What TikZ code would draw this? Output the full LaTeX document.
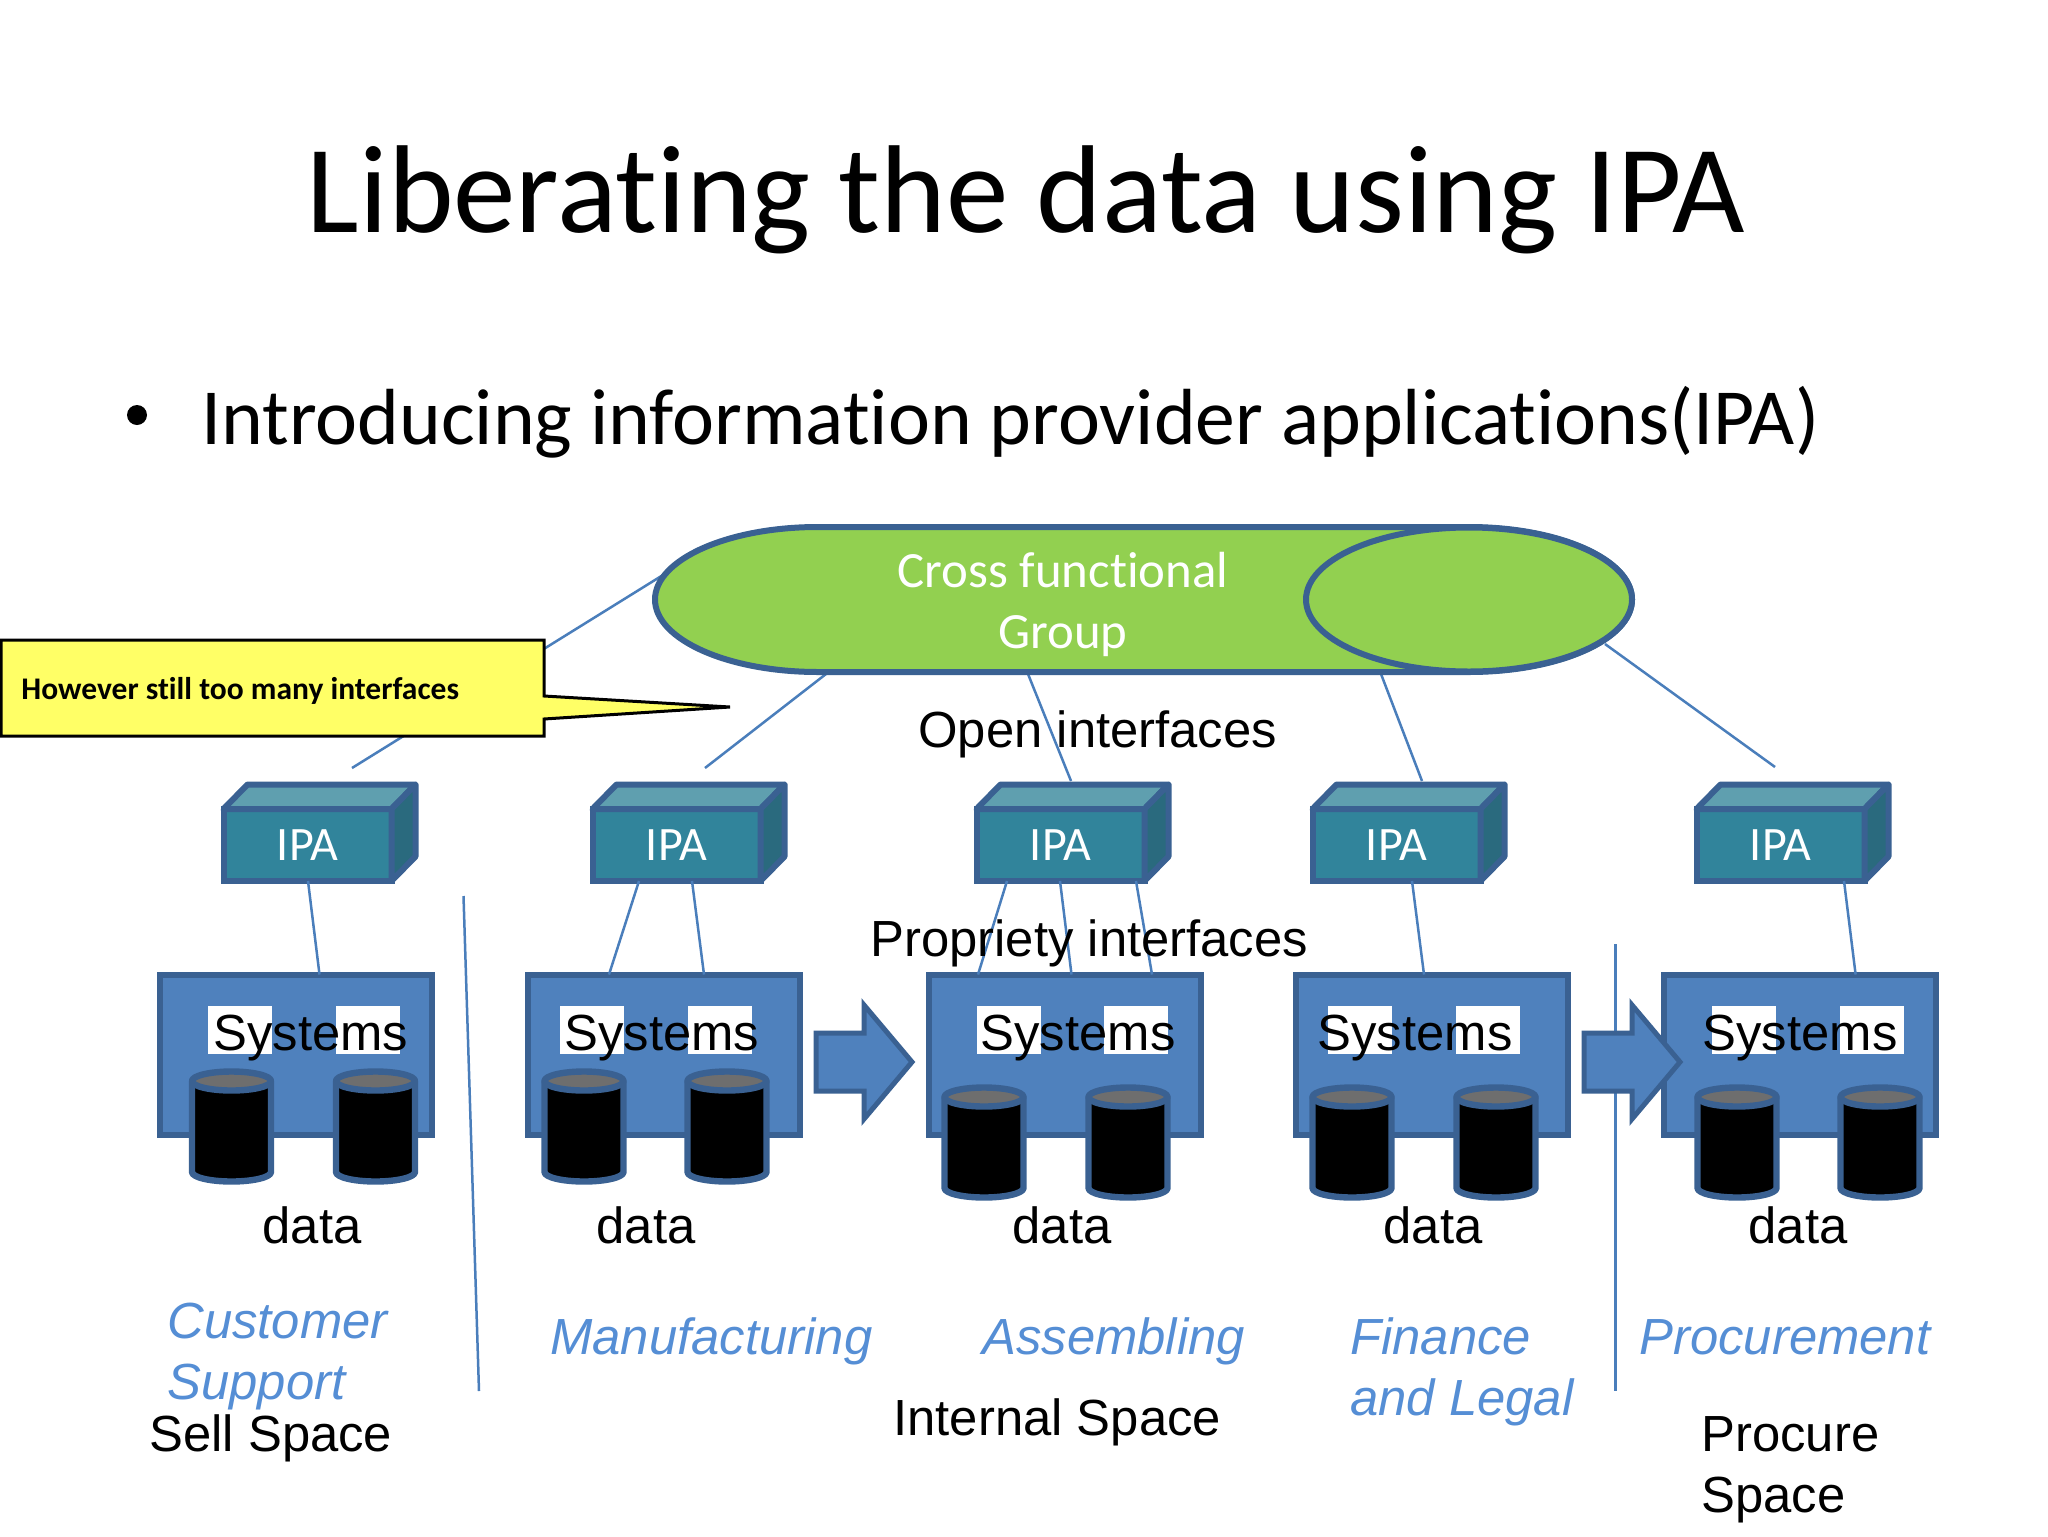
\documentclass[tikz,border=0pt]{standalone}
\usepackage{fontspec}
\setmainfont[Ligatures=NoCommon]{Carlito}
\newfontfamily\arialfont{Liberation Sans}
\usetikzlibrary{positioning, arrows.meta}

\definecolor{edgeblue}{HTML}{3A6192}
\definecolor{sysblue}{HTML}{4F81BD}
\definecolor{thinblue}{HTML}{4A7EBB}
\definecolor{labelblue}{HTML}{558ED5}
\definecolor{ipafront}{HTML}{31849B}
\definecolor{ipatop}{HTML}{5F9FAF}
\definecolor{ipaside}{HTML}{2A6A7E}
\definecolor{pillgreen}{HTML}{92D050}
\definecolor{noteyellow}{HTML}{FFFF66}
\definecolor{drumtop}{HTML}{6E6E6E}

\tikzset{
  thinline/.style={thinblue,line width=1.25pt},
  edgeline/.style={edgeblue,line width=3pt,line join=round},
  ipabox/.style={draw=edgeblue,line width=3pt,fill=ipafront,text=white,outer sep=0,inner sep=0,
    minimum width=84pt,minimum height=36pt,font=\fontsize{24}{29}\selectfont},
  sysbox/.style={draw=edgeblue,line width=3pt,fill=sysblue,outer sep=0,inner sep=0,
    minimum width=136pt,minimum height=80pt},
  patch/.style={fill=white,inner sep=0,minimum width=32pt,minimum height=24pt,anchor=north west},
  arial/.style={font=\arialfont\fontsize{25.4}{30.5}\selectfont,inner sep=0,align=left},
  italicblue/.style={font=\arialfont\itshape\fontsize{25.4}{30.5}\selectfont,text=labelblue,inner sep=0,align=left}
}

% caja IPA con sus dos caras extra
\newcommand{\ipacube}[2]{
  \node[ipabox](#1) at (#2,845) {IPA};
  \draw[edgeline,fill=ipatop] (#1.north west) -- ++(24,-24.5) -- ++(168,0) -- (#1.north east) -- cycle;
  \draw[edgeline,fill=ipaside] (#1.north east) -- ++(24,-24.5) -- ++(0,72) -- (#1.south east) -- cycle;
}
% sistema: nombre, centro, los dos parches blancos, centro del texto
\newcommand{\system}[5]{
  \node[sysbox](#1) at (#2,1054.5) {};
  \node[patch](#1p1) at (#3,1006) {};
  \node[patch](#1p2) at (#4,1006) {};
  \node[arial,anchor=base](#1t) at (#5,1050) {Systems};
}
\newcommand{\drum}[2]{
  \draw[edgeline,line width=3.2pt,fill=black] (#1-39.5,#2) -- (#1-39.5,#2+91)
    arc[start angle=180,end angle=0,x radius=39.5,y radius=9.5] -- (#1+39.5,#2) -- cycle;
  \draw[edgeline,line width=3.2pt,fill=drumtop] (#1,#2) ellipse[x radius=39.5,y radius=9.5];
}
\newcommand{\blockarrow}[1]{
  \draw[edgeblue,line width=2.5pt,miter limit=3,fill=sysblue] (#1,1033) -- ++(48,0) -- ++(0,-28) -- ++(48,57) -- ++(-48,57) -- ++(0,-28) -- ++(-48,0) -- cycle;
}

\begin{document}
\begin{tikzpicture}[x=0.5pt,y=-0.5pt]
  \useasboundingbox[fill=white] (0,0) rectangle (2048,1536);

  \node[anchor=base,inner sep=0,font=\fontsize{62.5}{72}\selectfont](title) at (1026,232) {Liberating the data using IPA};
  \node[anchor=base west,inner sep=0,font=\fontsize{39.8}{46}\selectfont](bullet) at (201,444) {Introducing information provider applications(IPA)};
  \fill (137,415) circle (10);

  % lineas abiertas, quedan debajo de la nota
  \coordinate (o1a) at (663,575); \coordinate (o1b) at (352,768);
  \coordinate (o2a) at (826,674); \coordinate (o2b) at (705,768);
  \coordinate (o3a) at (1028,674); \coordinate (o3b) at (1071,781);
  \coordinate (o4a) at (1381,674); \coordinate (o4b) at (1422,781);
  \coordinate (o5a) at (1605,644); \coordinate (o5b) at (1775,767);
  \draw[thinline] (o1a) -- (o1b);
  \draw[thinline] (o2a) -- (o2b);
  \draw[thinline] (o3a) -- (o3b);
  \draw[thinline] (o4a) -- (o4b);
  \draw[thinline] (o5a) -- (o5b);

  % grupo transversal
  \draw[edgeline,fill=pillgreen] (818,527) -- (1469,527)
    arc[start angle=270,end angle=450,x radius=163,y radius=72.5] -- (818,672)
    arc[start angle=90,end angle=270,x radius=163,y radius=72.5] -- cycle;
  \draw[edgeline,fill=pillgreen] (1469,599.5) ellipse[x radius=163,y radius=72];
  \node[anchor=base,text=white,inner sep=0,align=center,font=\fontsize{25.4}{30.5}\selectfont](group) at (1063,648) {Cross functional\\Group};

  % nota amarilla
  \draw[black,line width=1.5pt,fill=noteyellow] (1,640) -- (544,640) -- (544,696) -- (730,707) -- (544,719) -- (544,736) -- (1,736) -- cycle;
  \node[anchor=base west,inner sep=0,font=\bfseries\fontsize{15.75}{19}\selectfont](note) at (21,699) {However still too many interfaces};

  \ipacube{ipa1}{307.5}
  \ipacube{ipa2}{676.5}
  \ipacube{ipa3}{1060.5}
  \ipacube{ipa4}{1396.5}
  \ipacube{ipa5}{1780.5}

  \draw[thinline] (463.5,896) -- (479,1391);
  \draw[thinline] (1615.5,944) -- (1615.5,1391);

  \system{sys1}{295.5}{208}{336}{311}
  \system{sys2}{663.5}{560}{688}{662}
  \system{sys3}{1064.5}{977}{1104}{1078}
  \system{sys4}{1432}{1328}{1456}{1415}
  \system{sys5}{1800}{1712}{1840}{1800}

  \draw[thinline] ([shift={(0.5,0)}]ipa1.south) -- ([shift={(24,0)}]sys1.north);
  \draw[thinline] ([shift={(-37.5,0)}]ipa2.south) -- ([shift={(-54.5,0)}]sys2.north);
  \draw[thinline] ([shift={(15.5,0)}]ipa2.south) -- ([shift={(40.5,0)}]sys2.north);
  \draw[thinline] ([shift={(-53.5,0)}]ipa3.south) -- ([shift={(-86.5,0)}]sys3.north);
  \draw[thinline] ([shift={(-0.5,0)}]ipa3.south) -- ([shift={(7,0)}]sys3.north);
  \draw[thinline] ([shift={(75.5,0)}]ipa3.south) -- ([shift={(87.5,0)}]sys3.north);
  \draw[thinline] ([shift={(15.5,0)}]ipa4.south) -- ([shift={(-8,0)}]sys4.north);
  \draw[thinline] ([shift={(63.5,0)}]ipa5.south) -- ([shift={(55.6,0)}]sys5.north);

  \drum{231.5}{1081} \drum{375.5}{1081}
  \drum{584}{1081} \drum{727}{1081}
  \drum{984}{1097} \drum{1128}{1097}
  \drum{1352}{1097} \drum{1496}{1097}
  \drum{1737}{1097} \drum{1880}{1097}

  \blockarrow{816}
  \blockarrow{1584}

  \node[arial,anchor=base west](openif) at (918,747) {Open interfaces};
  \node[arial,anchor=base west](propif) at (870,956) {Propriety interfaces};

  \node[arial,anchor=base](data1) at (312,1243) {data};
  \node[arial,anchor=base](data2) at (646,1243) {data};
  \node[arial,anchor=base](data3) at (1062,1243) {data};
  \node[arial,anchor=base](data4) at (1433,1243) {data};
  \node[arial,anchor=base](data5) at (1798,1243) {data};

  \node[italicblue,anchor=base west](space1) at (167,1399) {Customer\\Support};
  \node[italicblue,anchor=base west](space2) at (550,1354) {Manufacturing};
  \node[italicblue,anchor=base west](space3) at (982,1354) {Assembling};
  \node[italicblue,anchor=base west](space4) at (1350,1415) {Finance\\and Legal};
  \node[italicblue,anchor=base west](space5) at (1639,1354) {Procurement};

  \node[arial,anchor=base west](sell) at (149,1451) {Sell Space};
  \node[arial,anchor=base west](internal) at (893,1435) {Internal Space};
  \node[arial,anchor=base west](procure) at (1701,1512) {Procure\\Space};
\end{tikzpicture}
\end{document}
